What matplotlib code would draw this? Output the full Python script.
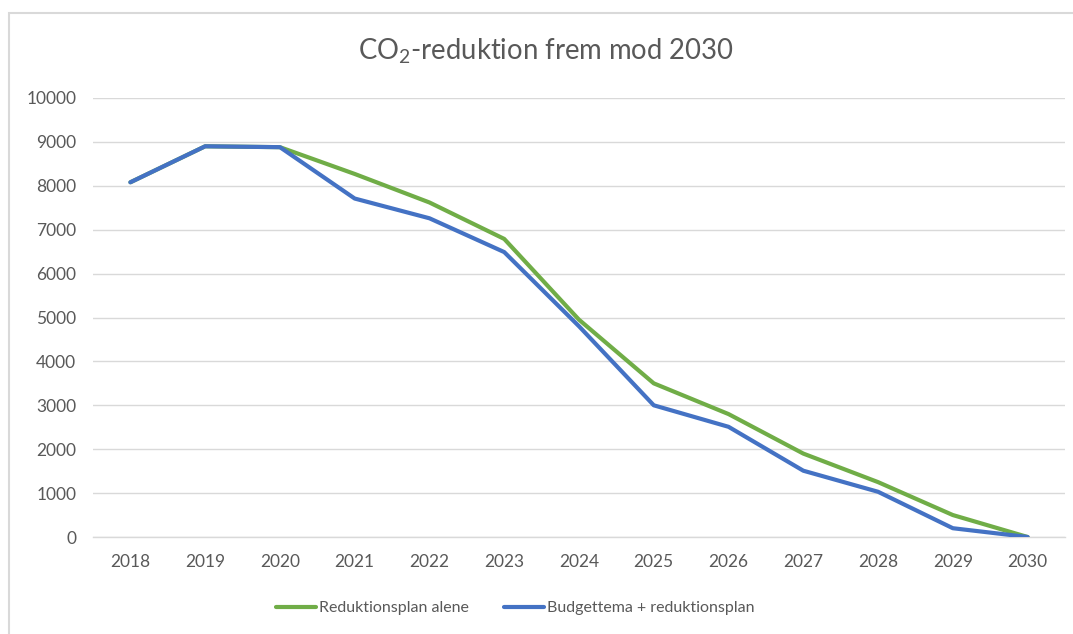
import matplotlib
matplotlib.use('Agg')
from matplotlib import pyplot as plt
from matplotlib.patches import Rectangle

years = ['2018', '2019', '2020', '2021', '2022', '2023', '2024',
         '2025', '2026', '2027', '2028', '2029', '2030']
plan_alone = [8080, 8900, 8880, 8270, 7620, 6790, 4950, 3500, 2800, 1900, 1250, 500, 0]
budget_plus_plan = [8080, 8900, 8880, 7710, 7260, 6490, 4800, 3000, 2510, 1510, 1030, 200, 0]
y_ticks = list(range(0, 10001, 1000))

GREEN = '#70AD47'
BLUE = '#4472C4'
GREY_TEXT = '#595959'
GRID = '#D9D9D9'

plt.rcParams['font.family'] = ['Lato', 'DejaVu Sans']
plt.rcParams['mathtext.fontset'] = 'custom'
plt.rcParams['mathtext.rm'] = 'Lato'

W, H = 1073, 634
fig = plt.figure(figsize=(W / 100, H / 100), dpi=100)

# chart border (Excel style, runs off the right / bottom edges)
fig.patches.append(Rectangle((9 / W, -0.05), 1.2, (H - 13) / H + 0.05,
                             transform=fig.transFigure, fill=False,
                             edgecolor=GRID, linewidth=1.5))

ax = fig.add_axes([93 / W, (H - 537) / H, (1065 - 93) / W, (537 - 98) / H])
x = list(range(len(years)))
ax.plot(x, plan_alone, color=GREEN, lw=3, solid_capstyle='round',
        solid_joinstyle='round', label='Reduktionsplan alene', zorder=3)
ax.plot(x, budget_plus_plan, color=BLUE, lw=3, solid_capstyle='round',
        solid_joinstyle='round', label='Budgettema + reduktionsplan', zorder=4)

ax.set_xlim(-0.5, len(years) - 0.5)
ax.set_ylim(0, 10000)
ax.set_yticks(y_ticks)
ax.set_yticklabels([str(v) for v in y_ticks])
ax.set_xticks(x)
ax.set_xticklabels(years)
ax.grid(axis='y', color=GRID, lw=1)
ax.set_axisbelow(True)
for side in ('top', 'right', 'left'):
    ax.spines[side].set_visible(False)
ax.spines['bottom'].set_color(GRID)
ax.spines['bottom'].set_linewidth(1)
ax.tick_params(axis='both', length=0, labelsize=12.5, labelcolor=GREY_TEXT)
ax.tick_params(axis='y', pad=12)
ax.tick_params(axis='x', pad=12)

fig.text(546 / W, 1 - 51 / H, r'CO$_\mathrm{2}$-reduktion frem mod 2030',
         ha='center', va='center', fontsize=19.8, color=GREY_TEXT)

leg = fig.legend(loc='center', bbox_to_anchor=(515 / W, 1 - 608 / H), ncol=2,
                 frameon=False, fontsize=11.5, handlelength=2.5,
                 columnspacing=2.2, handletextpad=0.2)
for t in leg.get_texts():
    t.set_color(GREY_TEXT)

fig.savefig('out.png', dpi=100)
